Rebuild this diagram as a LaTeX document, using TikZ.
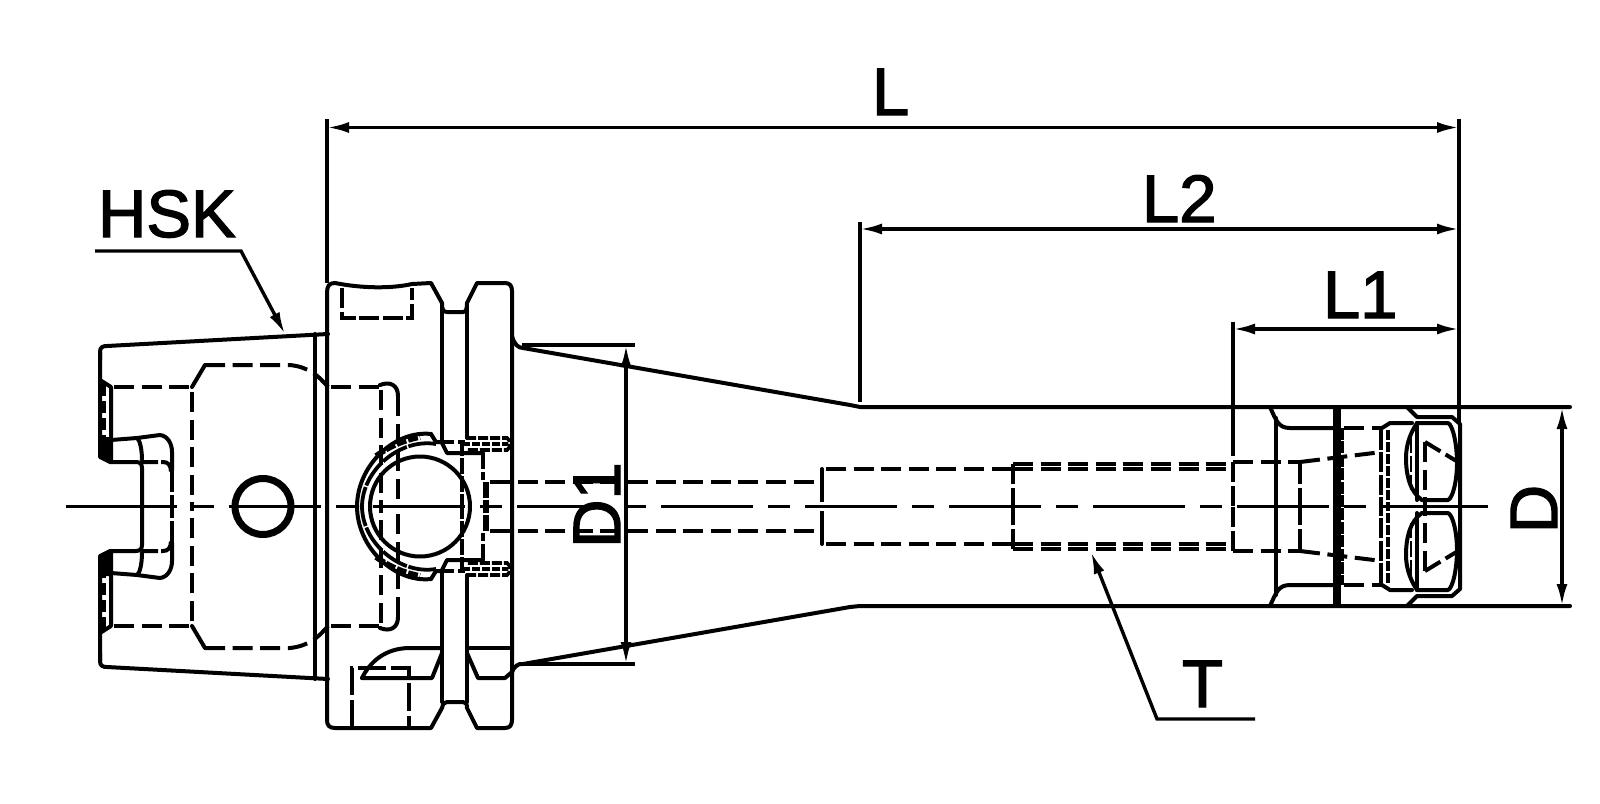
\documentclass[tikz,border=0pt]{standalone}
\usepackage{fontspec}
\setmainfont{Liberation Sans}
\newfontfamily\lblfont[FakeBold=2]{Liberation Sans}
\usetikzlibrary{arrows.meta}
\tikzset{
  body/.style={line width=2pt,line join=round,line cap=round,black},
  hid/.style={line width=2pt,dash pattern=on 10pt off 3.8pt,black},
  hidshort/.style={line width=1.9pt,dash pattern=on 6pt off 2.5pt,black},
  heavy/.style={line width=2.8pt,dash pattern=on 5pt off 1pt,black},
  dimline/.style={line width=1.7pt,black,{Latex[length=11pt,width=5.5pt]}-{Latex[length=11pt,width=5.5pt]}},
  extline/.style={line width=1.7pt,black},
  leader/.style={line width=1.7pt,black,line join=miter},
  axis/.style={line width=1.55pt,black},
  lbl/.style={inner sep=0pt,outer sep=0pt,font=\lblfont\fontsize{33.5}{40}\selectfont,text=black}
}
\def\myhalf{%
  % shank taper
  \draw[body] (100,360) -- (100,352) .. controls (100,347) and (103,346) .. (107,346) -- (328,334);
  \draw[body] (100,352) -- (100,457) -- (110,462) -- (136,462) .. controls (140,462) and (142,464) .. (142,468) -- (142,507);
  \draw[body] (100,380) -- (111,387) -- (111,462);
  \fill (100,437) -- (111,437) -- (111,462) -- (109,462) -- (100,456) -- cycle;
  \draw[hidshort,line width=2pt] (104,384) -- (104,437);
  \draw[hidshort] (111,388) -- (111,437);
  % drive slot
  \draw[body] (111,440) -- (137,438) .. controls (140,440) and (142,450) .. (142,460);
  \draw[body] (137,438) -- (160,435) .. controls (168,436) and (172,444) .. (172,452) -- (172,470);
  \draw[hid,dash pattern=on 11pt off 1.5pt] (172,470) -- (172,507);
  \draw[hid,dash pattern=on 8pt off 1.5pt] (142,462) -- (163,462) .. controls (168,462) and (171,465) .. (171,472);
  % inner bore of the shank
  \draw[hid] (114,387) -- (192,387);
  \draw[hid] (192,392) -- (192,507);
  \draw[body] (192,387) -- (205,365);
  \draw[hid] (205,365) -- (290,365) .. controls (308,367) and (318,375) .. (328,387);
  \draw[body] (315,334) -- (315,507);
  \draw[hid] (331,387) -- (380,387);
  \draw[body] (380,385) .. controls (390,381) and (398,385) .. (398,396);
  \draw[hid] (398,396) -- (398,507);
  \draw[hid] (381,390) -- (381,507);
  % ball / arcs
  \draw[body] (431,434) .. controls (395,430) and (357,465) .. (357,507);
  \draw[hidshort,dash pattern=on 14pt off .8pt] (436,444) .. controls (400,438) and (362,470) .. (362,507);
  \draw[heavy] (376,456) .. controls (390,446) and (405,440) .. (420,437);
  \draw[body] (431,434) -- (436,442) -- (442,442);
  \draw[hid,dash pattern=on 6pt off 2pt] (442,442) -- (465,442);
  \draw[body] (442,443) -- (447,453) -- (462,453) -- (483,453);
  % screws
  \draw[hid,dash pattern=on 5pt off 1pt,line width=1.8pt] (466,438) -- (507,438) .. controls (511,440) and (511,448) .. (507,450) -- (466,450);
  \draw[hid,dash pattern=on 4pt off 1pt,line width=1.8pt] (462,444) -- (508,444);
  \draw[hid,dash pattern=on 8pt off 1pt] (462,440) -- (462,507);
  \draw[hid,dash pattern=on 8pt off 1.5pt] (483,453) -- (483,480);
  \draw[line width=2.8pt,dash pattern=on 8pt off .8pt] (486,482) -- (486,507);
  % neck bore
  \draw[hid] (490,482) -- (822,482);
  \draw[hid,dash pattern=on 10pt off 2pt] (822,482) -- (822,507);
  \draw[body] (822,482) -- (822,469);
  \draw[hid] (826,469) -- (1013,469);
  \draw[hid,dash pattern=on 10pt off 2pt] (1013,464) -- (1013,507);
  \draw[hid] (1013,464) -- (1233,464);
  \draw[hid] (1013,469) -- (1233,469);
  \draw[hid,dash pattern=on 10pt off 2pt] (1233,462) -- (1233,507);
  \draw[hid] (1233,462) -- (1300,462);
  \draw[hid] (1300,462) -- (1382,452);
  \draw[hid,dash pattern=on 10pt off 2pt] (1300,464) -- (1300,507);
  % nose
  \draw[body] (1270,407) .. controls (1276,420) and (1278,428) .. (1290,428) -- (1333,428);
  \draw[hid] (1344,428) -- (1382,428);
  \draw[body] (1276,418) -- (1276,507);
  \draw[hid,dash pattern=on 10pt off 1.2pt] (1381,430) -- (1381,507);
  \draw[heavy,line width=2.4pt] (1388,430) -- (1388,507);
  \draw[body] (1382,428) -- (1390,423) -- (1412,423);
  \draw[body] (1407,407) -- (1417,417) -- (1452,417) -- (1460,424) -- (1460,507);
  % lens
  \draw[body] (1417,423) -- (1448,423) .. controls (1453,425) and (1457,445) .. (1457,463) .. controls (1457,480) and (1453,498) .. (1448,500) -- (1422,500);
  \draw[body] (1417,423) .. controls (1409,435) and (1406,447) .. (1406,458) .. controls (1406,475) and (1410,492) .. (1422,500);
  \draw[body] (1417,423) -- (1417,500);
  \draw[hid,dash pattern=on 8pt off 1.5pt,line width=1.4pt] (1411,437) -- (1411,490);
  \draw[hid] (1425,442) -- (1425,507);
  \draw[hid,dash pattern=on 9pt off 3pt] (1425,442) -- (1458,462);
}
\begin{document}
\begin{tikzpicture}[x=0.5pt,y=-0.5pt]
  \path[use as bounding box,fill=white] (0,0) rectangle (1600,803);

  \myhalf
  \begin{scope}[shift={(0,1013)},yscale=-1]
    \myhalf
  \end{scope}

  % flange
  \draw[body] (327,293) .. controls (327,286) and (329,283) .. (335,283)
     .. controls (360,288) and (390,289) .. (412,284) -- (431,283) -- (442,303)
     .. controls (442,309) and (443,312) .. (447,312) -- (463,312)
     .. controls (466,312) and (467,309) .. (467,303) -- (477,283) -- (505,283)
     .. controls (510,283) and (512,286) .. (512,291) -- (512,720)
     .. controls (512,725) and (510,728) .. (505,728) -- (477,728) -- (467,708)
     .. controls (467,704) and (466,702) .. (463,702) -- (447,702)
     .. controls (444,702) and (443,704) .. (442,708) -- (431,728) -- (335,728)
     .. controls (329,728) and (327,725) .. (327,720) -- cycle;
  \draw[body] (442,303) -- (442,442) (467,303) -- (467,438);
  \draw[body] (442,571) -- (442,702) (467,575) -- (467,702);
  % key slots
  \draw[hid,dash pattern=on 10pt off 1.8pt,line width=2.1pt] (342,288) -- (342,318) -- (412,318) -- (412,288);
  \draw[hid,dash pattern=on 14pt off 2.5pt,line width=1.7pt] (352,728) -- (352,668) -- (409,668) -- (409,728);
  \draw[body] (362,678) .. controls (370,662) and (385,648) .. (410,648) -- (442,648);
  \draw[body] (362,678) -- (432,678) -- (442,653);
  \draw[body] (467,648) -- (512,648);
  \draw[body] (467,653) -- (478,678) -- (505,678) -- (512,672);
  % inner ball circle and drive hole
  \draw[body] (420,506.5) circle [radius=50];
  \draw[line width=3.5pt] (263,506.5) circle [radius=28];

  % outline of neck and body
  \draw[body] (512,336) .. controls (514,344) and (518,348) .. (523,348) -- (850,405) -- (860,407) -- (1570,407);
  \draw[body] (512,672) .. controls (514,667) and (518,663) .. (523,664) -- (850,607) -- (860,606) -- (1570,606);
  \draw[line width=3.6pt] (1337,407) -- (1337,606);
  \draw[line width=2pt,dash pattern=on 6pt off .7pt] (1342,428) -- (1342,585);

  % centre line
  \draw[axis] (66,506.5) -- (177,506.5);
  \draw[axis,dash pattern=on 11pt off 7.5pt on 46pt off 7.5pt] (192,506.5) -- (1473,506.5);
  \draw[axis] (1473,506.5) -- (1488,506.5);

  % dimension coordinates
  \coordinate (Lleft) at (327,127.5);
  \coordinate (Lright) at (1459,127.5);
  \coordinate (LleftTop) at (327,119);
  \coordinate (LleftBot) at (327,283);
  \coordinate (LrightTop) at (1459,119);
  \coordinate (LrightBot) at (1459,422);
  \coordinate (Ltwoleft) at (860,229);
  \coordinate (Ltworight) at (1459,229);
  \coordinate (LtwoTop) at (860,222);
  \coordinate (LtwoBot) at (860,402);
  \coordinate (Loneleft) at (1233,329);
  \coordinate (Loneright) at (1459,329);
  \coordinate (LoneTop) at (1233,322);
  \coordinate (LoneBot) at (1233,456);
  \coordinate (Done) at (626,345);
  \coordinate (Donb) at (626,664);
  \coordinate (DoneA) at (522,345);
  \coordinate (DoneB) at (635,345);
  \coordinate (DoneC) at (522,664);
  \coordinate (DoneD) at (635,664);
  \coordinate (Dtop) at (1562,407);
  \coordinate (Dbot) at (1562,606);

  \draw[extline] (LleftTop) -- (LleftBot);
  \draw[extline] (LrightTop) -- (LrightBot);
  \draw[extline] (LtwoTop) -- (LtwoBot);
  \draw[extline] (LoneTop) -- (LoneBot);
  \draw[extline] (DoneA) -- (DoneB);
  \draw[extline] (DoneC) -- (DoneD);
  \draw[dimline] (Lleft) -- (Lright);
  \draw[dimline] (Ltwoleft) -- (Ltworight);
  \draw[dimline] (Loneleft) -- (Loneright);
  \draw[dimline] (Done) -- (Donb);
  \draw[dimline] (Dtop) -- (Dbot);

  % labels
  \node[lbl,anchor=base west] (labL) at (872,115) {L};
  \node[lbl,anchor=base west] (labLtwo) at (1142,222) {L2};
  \node[lbl,anchor=base west] (labLone) at (1323,318) {L1};
  \node[lbl,anchor=base west] (labHSK) at (98,237) {HSK};
  \node[lbl,anchor=base west] (labT) at (1182,707) {T};
  \node[lbl,rotate=90,anchor=base] (labDone) at (620,505) {D1};
  \node[lbl,rotate=90,anchor=base] (labD) at (1557,509) {D};

  % leaders
  \coordinate (hskA) at (95,251);
  \coordinate (hskB) at (241,251);
  \coordinate (hskC) at (285,334);
  \coordinate (tA) at (1255,719);
  \coordinate (tB) at (1157,719);
  \coordinate (tC) at (1091,552);
  \draw[leader,-{Latex[length=11pt,width=5.5pt]}] (hskA) -- (hskB) -- (hskC);
  \draw[leader,-{Latex[length=11pt,width=5.5pt]}] (tA) -- (tB) -- (tC);
\end{tikzpicture}
\end{document}
